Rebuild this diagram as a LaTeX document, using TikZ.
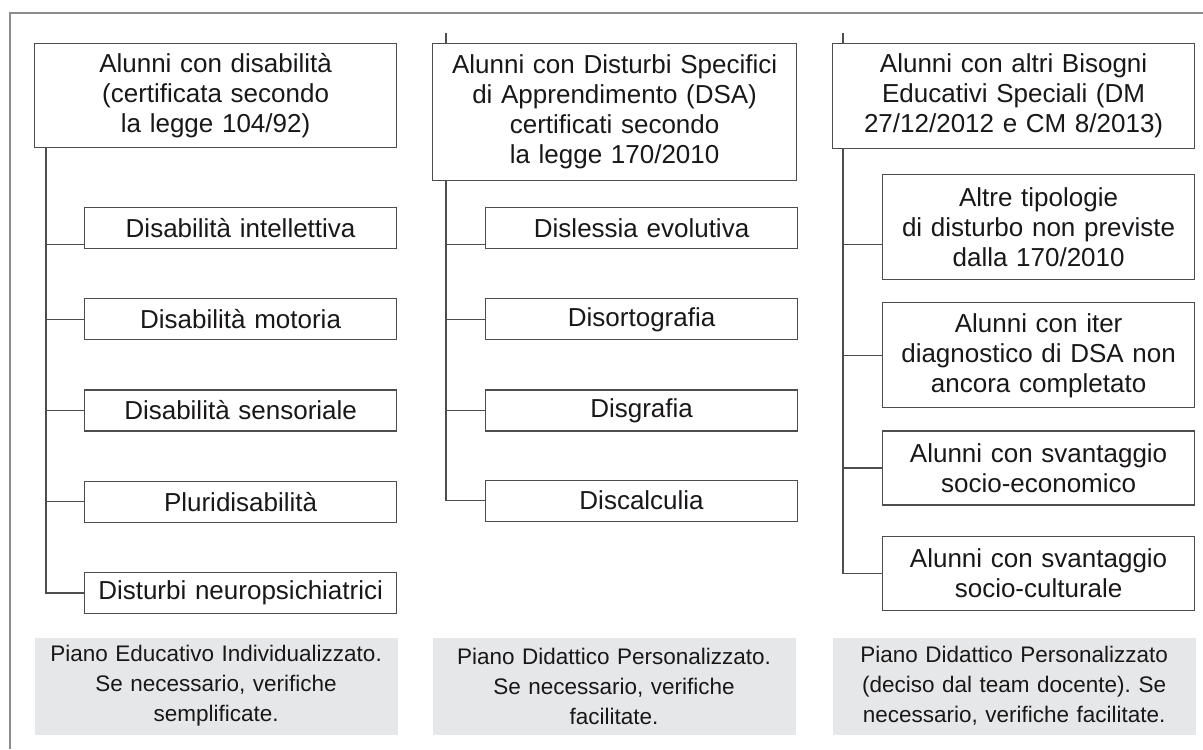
\documentclass[tikz,border=0pt]{standalone}
\usepackage{fontspec}
\setmainfont{Liberation Sans}
\usepackage{tikz}
\usetikzlibrary{positioning}
\frenchspacing
\definecolor{linegray}{HTML}{4D4D4D}
\definecolor{framegray}{HTML}{8C8C8C}
\definecolor{planfill}{HTML}{E6E7E8}
\definecolor{inkblack}{HTML}{1A1718}
\tikzset{
    box/.style={draw=linegray, line width=0.6pt, anchor=north west, inner sep=0pt,
      align=center, text=inkblack, font=\fontsize{13}{15}\selectfont},
    head/.style={box, minimum width=181pt, text width=178pt},
    item/.style={box, minimum width=156pt, text width=153pt, minimum height=20.5pt},
    plan/.style={box, draw=none, fill=planfill, minimum width=181.5pt, text width=178pt,
      minimum height=48.5pt, font=\fontsize{11.25}{15}\selectfont},
    link/.style={draw=linegray, line width=0.6pt},
}

\begin{document}
\begin{tikzpicture}[x=0.5pt, y=-0.5pt]
    \useasboundingbox (0,0) rectangle (1203,749);
    \draw[framegray, line width=0.6pt] (1203,13) -- (10,13) -- (10,749);

    \node[head, minimum height=52pt] at (34,43) (h1) {Alunni con disabilità\\(certificata secondo\\la legge 104/92)};
    \node[item] at (84,207) (c11) {Disabilità intellettiva};
    \node[item, below=24.5pt of c11] (c12) {Disabilità motoria};
    \node[item, below=24.5pt of c12] (c13) {Disabilità sensoriale};
    \node[item, below=24.5pt of c13] (c14) {Pluridisabilità};
    \node[item, below=24.5pt of c14] (c15) {Disturbi neuropsichiatrici};
    \node[plan] at (34,637) (p1) {Piano Educativo Individualizzato.\\Se necessario, verifiche\\semplificate.};

    \draw[link] ([xshift=6pt]h1.south west) |- ([yshift=-8pt]c11.west);
    \foreach \c in {c12,c13,c14,c15}
      \draw[link] ([xshift=6pt]h1.south west) |- (\c.west);

    \node[head, minimum width=182pt, minimum height=68.5pt] at (432,43) (h2) {Alunni con Disturbi Specifici\\di Apprendimento (DSA)\\certificati secondo\\la legge 170/2010};
    \node[item] at (485,207) (c21) {Dislessia evolutiva};
    \node[item, below=24.5pt of c21] (c22) {Disortografia};
    \node[item, below=24.5pt of c22] (c23) {Disgrafia};
    \node[item, below=24pt of c23] (c24) {Discalculia};
    \node[plan] at (432,637) (p2) {Piano Didattico Personalizzato.\\Se necessario, verifiche\\facilitate.};

    \draw[link] ([xshift=7pt]h2.north west) -- ++(0,-10);
    \draw[link] ([xshift=7pt]h2.south west) |- ([yshift=-8pt]c21.west);
    \foreach \c in {c22,c23,c24}
      \draw[link] ([xshift=7pt]h2.south west) |- (\c.west);

    \node[head, minimum height=52.5pt] at (832,43) (h3) {Alunni con altri Bisogni\\Educativi Speciali (DM\\27/12/2012 e CM 8/2013)};
    \node[item, minimum height=52.5pt] at (882,174) (c31) {Altre tipologie\\di disturbo non previste\\dalla 170/2010};
    \node[item, minimum height=52.5pt, below=11pt of c31] (c32) {Alunni con iter\\diagnostico di DSA non\\ancora completato};
    \node[item, minimum height=37pt, below=11pt of c32] (c33) {Alunni con svantaggio\\socio-economico};
    \node[item, minimum height=37pt, below=15pt of c33] (c34) {Alunni con svantaggio\\socio-culturale};
    \node[plan] at (832,637) (p3) {Piano Didattico Personalizzato\\(deciso dal team docente). Se\\necessario, verifiche facilitate.};

    \draw[link] ([xshift=5.5pt]h3.north west) -- ++(0,-10);
    \draw[link] ([xshift=5.5pt]h3.south west) |- ([yshift=-8.5pt]c31.west);
    \foreach \c in {c32,c33,c34}
      \draw[link] ([xshift=5.5pt]h3.south west) |- (\c.west);
\end{tikzpicture}
\end{document}
